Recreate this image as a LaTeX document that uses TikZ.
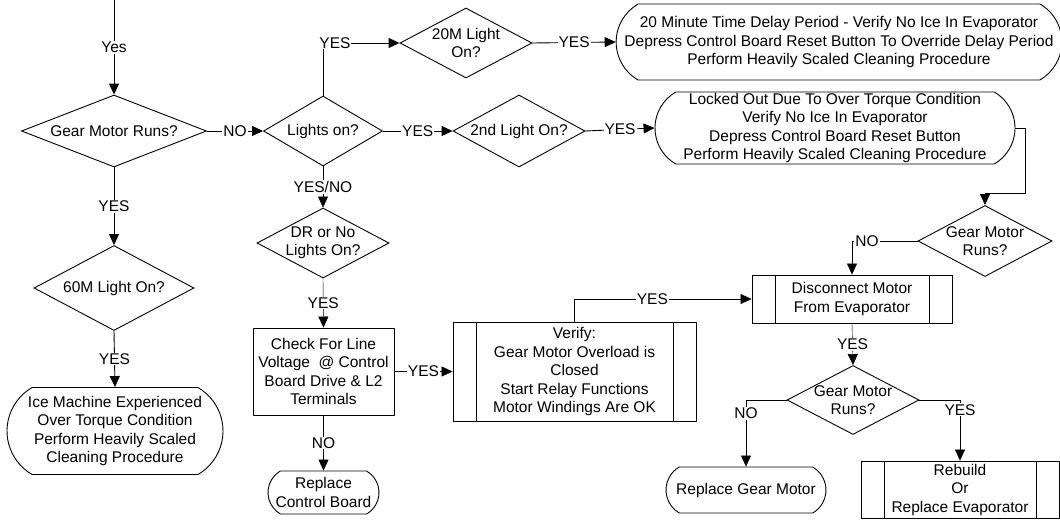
\documentclass[tikz,border=0pt]{standalone}
\usepackage{fontspec}
\setmainfont{Liberation Sans}
\usetikzlibrary{shapes.geometric,shapes.misc,arrows.meta}
\pgfdeclarelayer{background}
\pgfsetlayers{background,main}
\begin{document}
\begin{tikzpicture}[x=1pt,y=-1pt,
  line width=0.9pt,
  every node/.style={font=\fontsize{15.5}{18.5}\selectfont, align=center},
  dia/.style={draw, diamond, fill=white, inner xsep=-8pt, inner ysep=-3pt, shape aspect=1.9},
  term/.style={draw, rounded rectangle, rounded rectangle arc length=120, fill=white, inner sep=0pt},
  proc/.style={draw, rectangle, fill=white, inner sep=0pt},
  subp/.style={proc, path picture={
      \draw ([xshift=23pt]path picture bounding box.north west) -- ([xshift=23pt]path picture bounding box.south west);
      \draw ([xshift=-23pt]path picture bounding box.north east) -- ([xshift=-23pt]path picture bounding box.south east);}},
  arr/.style={-{Triangle[length=11pt,width=10pt]}},
  lbl/.style={fill=white, inner sep=1pt},
]
\useasboundingbox[fill=white] (0,0) rectangle (1060,520);

% nodes
\node[dia, shape aspect=2.57, minimum width=185pt, minimum height=72pt] (gm1) at (114,131) {Gear Motor Runs?};
\node[dia, minimum width=119pt, minimum height=70pt] (lights) at (323,131) {Lights on?};
\node[dia, minimum width=132pt, minimum height=70pt] (m20) at (466,43) {20M Light\\On?};
\node[dia, minimum width=132pt, minimum height=72pt] (light2) at (519,131) {2nd Light On?};
\node[term, minimum width=436pt, minimum height=76pt] (tbox) at (839,42) {20 Minute Time Delay Period - Verify No Ice In Evaporator\\Depress Control Board Reset Button To Override Delay Period\\Perform Heavily Scaled Cleaning Procedure};
\node[term, minimum width=360pt, minimum height=72pt] (box2) at (835,128) {Locked Out Due To Over Torque Condition\\Verify No Ice In Evaporator\\Depress Control Board Reset Button\\Perform Heavily Scaled Cleaning Procedure};
\node[dia, minimum width=134pt, minimum height=71pt] (gm2) at (985,241) {Gear Motor\\Runs?};
\node[subp, minimum width=200pt, minimum height=48pt] (disc) at (852,299) {Disconnect Motor\\From Evaporator};
\node[subp, minimum width=243pt, minimum height=99pt] (verify) at (574.5,371.5) {Verify:\\Gear Motor Overload is\\Closed\\Start Relay Functions\\Motor Windings Are OK};
\node[proc, minimum width=141pt, minimum height=87pt] (check) at (323.5,371.5) {Check For Line\\Voltage~ @ Control\\Board Drive \& L2\\Terminals};
\node[dia, minimum width=132pt, minimum height=70pt] (dr) at (323,243) {DR or No\\Lights On?};
\node[term, minimum width=111pt, minimum height=43pt] (rcb) at (323.5,492.5) {Replace\\Control Board};
\node[dia, minimum width=160pt, minimum height=85pt] (m60) at (114,288) {60M Light On?};
\node[term, minimum width=216pt, minimum height=87pt] (ice) at (115,431) {Ice Machine Experienced\\Over Torque Condition\\Perform Heavily Scaled\\Cleaning Procedure};
\node[dia, minimum width=132pt, minimum height=69pt] (gm3) at (853,400) {Gear Motor\\Runs?};
\node[term, minimum width=160pt, minimum height=46pt] (rgm) at (746,490) {Replace Gear Motor};
\node[subp, minimum width=198pt, minimum height=57pt] (reb) at (960,489.5) {Rebuild\\Or\\Replace Evaporator};

\coordinate (start) at (114,0);
\coordinate (c1) at (1025,193);

% connectors
\draw[arr] (start) -- node[lbl]{Yes} (gm1.north);
\draw[arr] (gm1.east) -- node[lbl]{NO} (lights.west);
\draw[arr] (gm1.south) -- node[lbl]{YES} (m60.north);
\draw[arr] (m60.south) -- node[lbl]{YES} (ice.north);
\draw[arr] (lights.north) |- node[lbl,pos=0.578]{YES} (m20.west);
\draw[arr] (m20.east) -- node[lbl]{YES} (tbox.west);
\draw[arr] (lights.east) -- node[lbl]{YES} (light2.west);
\draw[arr] (light2.east) -- node[lbl]{YES} (box2.west);
\draw[arr] (box2.east) -| (c1) -| (gm2.north);
\begin{pgfonlayer}{background}
\draw[arr] (gm2.east |- tbox.center) -- (gm2.east);
\end{pgfonlayer}
\draw[arr] (gm2.west) -| node[lbl,pos=0.386]{NO} (disc.north);
\draw[arr] (lights.south) -- node[lbl]{YES/NO} (dr.north);
\draw[arr] (dr.south) -- node[lbl]{YES} (check.north);
\draw[arr] (check.south) -- node[lbl]{NO} (rcb.north);
\draw[arr] (check.east) -- node[lbl]{YES} (verify.west);
\draw[arr] (verify.north) |- node[lbl,pos=0.72]{YES} (disc.west);
\draw[arr] (disc.south) -- node[lbl]{YES} (gm3.north);
\draw[arr] (gm3.west) -| node[lbl,pos=0.6]{NO} (rgm.north);
\draw[arr] (gm3.east) -| node[lbl,pos=0.58]{YES} (reb.north);
\end{tikzpicture}
\end{document}
